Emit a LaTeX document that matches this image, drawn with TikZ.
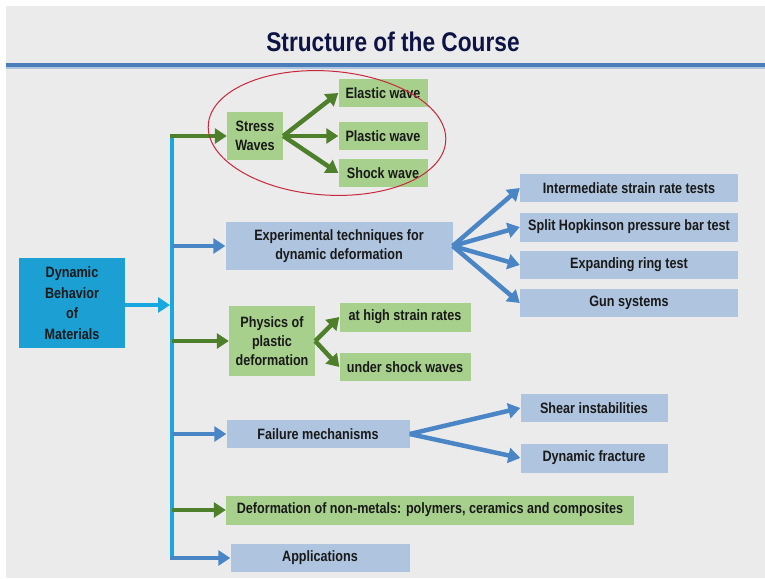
\documentclass[tikz,border=0pt]{standalone}
\usepackage{fontspec}
\setmainfont{Liberation Sans}[FakeStretch=0.84]
\usetikzlibrary{arrows.meta}

\definecolor{slidebg}{HTML}{EBEBEB}
\definecolor{rulecol}{HTML}{4A7EBB}
\definecolor{titlecol}{HTML}{0D1444}
\definecolor{rootcol}{HTML}{1CA0D4}
\definecolor{spinecol}{HTML}{18A8E0}
\definecolor{bluebox}{HTML}{AFC4DE}
\definecolor{bluearr}{HTML}{4A86C5}
\definecolor{greenbox}{HTML}{A8D08D}
\definecolor{greenarr}{HTML}{4E7F2A}
\definecolor{inkred}{HTML}{C8283C}

\tikzset{
  lbl/.style={inner sep=0pt, align=center, text=black!90,
    font=\bfseries\fontsize{15}{19}\selectfont},
  bbox/.style={lbl, fill=bluebox},
  gbox/.style={lbl, fill=greenbox},
  arr/.style={line width=4.5pt, -{Triangle[width=15pt,length=12pt]}},
  barr/.style={arr, draw=bluearr},
  garr/.style={arr, draw=greenarr},
  carr/.style={arr, draw=spinecol},
}

\begin{document}
\begin{tikzpicture}[x=1pt,y=-1pt]
  \useasboundingbox (0,0) rectangle (765,578);
  \fill[white] (0,0) rectangle (765,578);
  \fill[slidebg] (6,6) rectangle (765,578);

  % title and rule
  \node[font=\bfseries\fontsize{27}{30}\selectfont, text=titlecol] (title) at (393,42) {Structure of the Course};
  \fill[rulecol!45] (6,66) rectangle (765,69);
  \fill[rulecol] (6,63.5) rectangle (765,66.5);

  % root
  \node[lbl, fill=rootcol, minimum width=106pt, minimum height=90pt,
        font=\bfseries\fontsize{15}{20.5}\selectfont] (root) at (72,303)
        {Dynamic\\Behavior\\of\\Materials};

  % first level
  \node[gbox, minimum width=56pt, minimum height=48pt] (sw) at (255,136) {Stress\\Waves};
  \node[bbox, minimum width=227pt, minimum height=48pt] (exp) at (339,246) {Experimental techniques for\\dynamic deformation};
  \node[gbox, minimum width=86pt, minimum height=70pt] (phy) at (272,341) {Physics of\\plastic\\deformation};
  \node[bbox, minimum width=183pt, minimum height=28pt] (fm) at (318,434) {Failure mechanisms};
  \node[gbox, minimum width=408pt, minimum height=29pt] (nm) at (430,510) {Deformation of non-metals: polymers, ceramics and composites};
  \node[bbox, minimum width=179pt, minimum height=28pt] (app) at (320,558) {Applications};

  % second level
  \node[gbox, minimum width=89pt, minimum height=28pt] (ew) at (383,93) {Elastic wave};
  \node[gbox, minimum width=89pt, minimum height=28pt] (pw) at (383,136) {Plastic wave};
  \node[gbox, minimum width=89pt, minimum height=28pt] (shw) at (383,173) {Shock wave};

  \node[bbox, minimum width=218pt, minimum height=28pt] (ist) at (629,188) {Intermediate strain rate tests};
  \node[bbox, minimum width=218pt, minimum height=29pt] (shp) at (629,227) {Split Hopkinson pressure bar test};
  \node[bbox, minimum width=218pt, minimum height=28pt] (ert) at (629,265) {Expanding ring test};
  \node[bbox, minimum width=218pt, minimum height=28pt] (gun) at (629,303) {Gun systems};

  \node[gbox, minimum width=131pt, minimum height=29pt] (hsr) at (405,317) {at high strain rates};
  \node[gbox, minimum width=131pt, minimum height=28pt] (usw) at (405,367) {under shock waves};

  \node[bbox, minimum width=147pt, minimum height=28pt] (si) at (594,408) {Shear instabilities};
  \node[bbox, minimum width=147pt, minimum height=29pt] (df) at (594,458) {Dynamic fracture};

  % spine
  \coordinate (top) at (172,136);
  \coordinate (bot) at (172,557);
  \coordinate (rj) at (170,305);
  \draw[spinecol, line width=4.5pt] (top) -- (bot);
  \draw[carr] (root.east |- rj) -- (rj);

  % branches from the spine
  \draw[garr] (top) ++(-2.25,0) -- (sw.west);
  \draw[barr] (top |- exp.west) -- (exp.west);
  \draw[garr] (top |- phy.west) -- (phy.west);
  \draw[barr] (top |- fm.west) -- (fm.west);
  \draw[garr] (top |- nm.west) -- (nm.west);
  \draw[barr] (bot |- app.west) ++(-2.25,0) -- (app.west);

  % fans
  \foreach \t in {ew,pw,shw} \draw[garr] (sw.east) -- (\t.west);
  \foreach \t in {ist,shp,ert,gun} \draw[barr] (exp.east) -- (\t.west);
  \foreach \t in {hsr,usw} \draw[garr] (phy.east) -- (\t.west);
  \foreach \t in {si,df} \draw[barr] (fm.east) -- (\t.west);

  % hand-drawn circle around the stress-wave group
  \draw[inkred, line width=1pt, rotate around={-4:(327,133)}] (327,133) ellipse [x radius=119, y radius=62];
\end{tikzpicture}
\end{document}
